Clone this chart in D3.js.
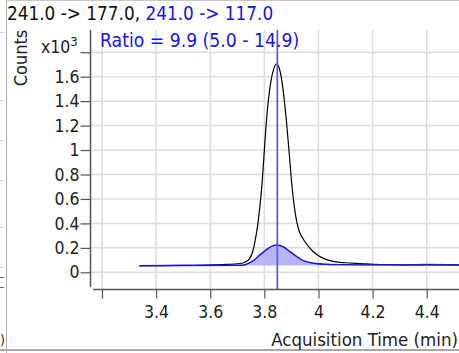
<!DOCTYPE html>
<html>
<head>
<meta charset="utf-8">
<script src="https://cdn.jsdelivr.net/npm/d3@7/dist/d3.min.js"></script>
<style>
  html, body { margin: 0; padding: 0; background: #fff; }
  svg { display: block; }
  text { font-family: 'DejaVu Sans Condensed', 'DejaVu Sans', sans-serif; font-stretch: condensed; }
</style>
</head>
<body>
<svg id="chart" width="459" height="353"></svg>
<script>
// ---- data ----
const quantTime = [3.338, 3.488, 3.647, 3.710, 3.730, 3.745, 3.757, 3.766, 3.775, 3.784, 3.792, 3.800, 3.809, 3.823, 3.834, 3.846, 3.856, 3.866, 3.880, 3.891, 3.901, 3.910, 3.920, 3.930, 3.944, 3.960, 3.980, 4.000, 4.025, 4.050, 4.100, 4.153, 4.227, 4.375, 4.519];
const quantCounts = [0.054, 0.056, 0.064, 0.072, 0.085, 0.110, 0.170, 0.260, 0.380, 0.550, 0.740, 1.000, 1.273, 1.546, 1.660, 1.704, 1.663, 1.548, 1.273, 1.000, 0.730, 0.550, 0.410, 0.330, 0.270, 0.220, 0.170, 0.135, 0.108, 0.092, 0.078, 0.072, 0.064, 0.060, 0.060];
const qualTime = [3.338, 3.716, 3.759, 3.784, 3.809, 3.833, 3.847, 3.870, 3.895, 3.920, 3.944, 3.981, 4.030, 4.092, 4.301, 4.394, 4.519];
const qualCounts = [0.054, 0.057, 0.095, 0.142, 0.188, 0.218, 0.223, 0.209, 0.169, 0.128, 0.095, 0.074, 0.065, 0.062, 0.060, 0.064, 0.060];
const integStart = 3.716, integEnd = 4.06, integBase = 0.056;
const retentionTime = 3.848;
const xTicks = [3.2, 3.4, 3.6, 3.8, 4.0, 4.2, 4.4];
const xTickLabels = ["", "3.4", "3.6", "3.8", "4", "4.2", "4.4"];
const yTicks = [0, 0.2, 0.4, 0.6, 0.8, 1.0, 1.2, 1.4, 1.6, 1.8];
const yTickLabels = ["0", "0.2", "0.4", "0.6", "0.8", "1", "1.2", "1.4", "1.6", ""];
const titleBlack = "241.0 -> 177.0, ";
const titleBlue = "241.0 -> 117.0";
const ratioText = "Ratio = 9.9 (5.0 - 14.9)";
const xTitle = "Acquisition Time (min)";
const yTitle = "Counts";
const leftFragmentY = [32, 100, 140, 180, 227, 267, 277, 287];

// ---- layout ----
const svg = d3.select("#chart");
const plotLeft = 93, plotRight = 459, plotTop = 30, plotBottom = 289;
const x = d3.scaleLinear().domain([3.2, 4.4]).range([102, 426.7]);
const y = d3.scaleLinear().domain([0, 1.6]).range([272.3, 76.7]);

const GRID = "#dcdcdc", AXIS = "#555", BLUE = "#1414f0";

// frame / neighbour fragments
svg.append("line").attr("x1", 6.5).attr("x2", 6.5).attr("y1", 0).attr("y2", 353).attr("stroke", "#b0b0b0").attr("stroke-width", 1);
svg.append("line").attr("x1", 6).attr("x2", 459).attr("y1", 0.5).attr("y2", 0.5).attr("stroke", "#c8c8c8").attr("stroke-width", 1);
svg.append("line").attr("x1", 0).attr("x2", 459).attr("y1", 350).attr("y2", 350).attr("stroke", "#a8a8a8").attr("stroke-width", 2);
svg.selectAll("line.frag").data(leftFragmentY).enter().append("line")
  .attr("class", "frag").attr("x1", 0).attr("x2", 4).attr("y1", d => d + 0.5).attr("y2", d => d + 0.5)
  .attr("stroke", (d, i) => i >= 6 ? "#666" : "#d0d0d0").attr("stroke-width", 1);
svg.append("text").attr("x", 0).attr("y", 345).attr("font-size", 14).attr("fill", "#222").text(")");

// clip
svg.append("defs").append("clipPath").attr("id", "clip")
  .append("rect").attr("x", plotLeft).attr("y", plotTop).attr("width", plotRight - plotLeft).attr("height", plotBottom - plotTop);

// grid
const grid = svg.append("g");
grid.selectAll("line.gx").data(xTicks).enter().append("line")
  .attr("x1", d => x(d)).attr("x2", d => x(d)).attr("y1", plotTop).attr("y2", plotBottom)
  .attr("stroke", GRID).attr("stroke-width", 1.5);
grid.selectAll("line.gy").data(yTicks).enter().append("line")
  .attr("x1", 90).attr("x2", plotRight).attr("y1", d => y(d)).attr("y2", d => y(d))
  .attr("stroke", GRID).attr("stroke-width", 1.5);

// series
const plot = svg.append("g").attr("clip-path", "url(#clip)");
const quant = quantTime.map((t, i) => [t, quantCounts[i]]);
const qual = qualTime.map((t, i) => [t, qualCounts[i]]);
const line = d3.line().x(d => x(d[0])).y(d => y(d[1])).curve(d3.curveMonotoneX);

// integration fill for qualifier
const interp = (arr, t) => {
  for (let i = 1; i < arr.length; i++) {
    if (t <= arr[i][0]) {
      const a = arr[i - 1], b = arr[i];
      return a[1] + (b[1] - a[1]) * (t - a[0]) / (b[0] - a[0]);
    }
  }
  return arr[arr.length - 1][1];
};
const fillPts = [[integStart, interp(qual, integStart)]]
  .concat(qual.filter(d => d[0] > integStart && d[0] < integEnd))
  .concat([[integEnd, interp(qual, integEnd)]]);
const area = d3.area().x(d => x(d[0])).y0(y(integBase)).y1(d => y(d[1])).curve(d3.curveMonotoneX);
plot.append("path").attr("d", area(fillPts)).attr("fill", "#b6b6f7").attr("stroke", "none");

plot.append("path").attr("d", line(quant)).attr("fill", "none").attr("stroke", "#000").attr("stroke-width", 1.2);
plot.append("path").attr("d", line(qual)).attr("fill", "none").attr("stroke", BLUE).attr("stroke-width", 1.5);

// retention time marker
plot.append("line").attr("x1", x(retentionTime)).attr("x2", x(retentionTime))
  .attr("y1", plotTop).attr("y2", plotBottom).attr("stroke", "#5858c8").attr("stroke-width", 1.7);

// axes
const yAxis = d3.axisLeft(y).tickValues(yTicks).tickSize(10).tickSizeOuter(0)
  .tickFormat((d, i) => yTickLabels[i]);
const gy = svg.append("g").attr("transform", "translate(90.5,0)").call(yAxis);
gy.select(".domain").remove();
gy.attr("font-family", null);
gy.selectAll(".tick line").attr("stroke", AXIS).attr("stroke-width", 1.2);
gy.selectAll(".tick text").attr("x", -11).attr("font-size", 17.5).attr("fill", "#222");
svg.append("line").attr("x1", 90.5).attr("x2", 90.5).attr("y1", plotTop).attr("y2", 287)
  .attr("stroke", AXIS).attr("stroke-width", 1.5);

const xAxis = d3.axisBottom(x).tickValues(xTicks).tickSize(9).tickSizeOuter(0)
  .tickFormat((d, i) => xTickLabels[i]);
const gx = svg.append("g").attr("transform", "translate(0,289.5)").call(xAxis);
gx.select(".domain").remove();
gx.attr("font-family", null);
gx.selectAll(".tick line").attr("stroke", AXIS).attr("stroke-width", 1.2);
gx.selectAll(".tick text").attr("y", 16).attr("font-size", 17.5).attr("fill", "#222");
svg.append("line").attr("x1", plotLeft).attr("x2", plotRight).attr("y1", 289.5).attr("y2", 289.5)
  .attr("stroke", AXIS).attr("stroke-width", 1.5);

// multiplier label at top tick
const mult = svg.append("text").attr("x", 41).attr("y", 53).attr("font-size", 17.5).attr("fill", "#222");
mult.append("tspan").text("x10");
mult.append("tspan").attr("dy", -7).attr("font-size", 13).text("3");

// titles
const title = svg.append("text").attr("x", 7).attr("y", 20).attr("font-size", 18.8);
title.append("tspan").attr("fill", "#111").text(titleBlack);
title.append("tspan").attr("fill", BLUE).text(titleBlue);

svg.append("text").attr("x", 100).attr("y", 47).attr("font-size", 19.2).attr("fill", BLUE).text(ratioText);

svg.append("text").attr("transform", "translate(27,58) rotate(-90)").attr("text-anchor", "middle")
  .attr("font-size", 18).attr("fill", "#222").text(yTitle);

svg.append("text").attr("x", 458).attr("y", 346).attr("text-anchor", "end")
  .attr("font-size", 18.5).attr("fill", "#222").text(xTitle);
</script>
</body>
</html>
